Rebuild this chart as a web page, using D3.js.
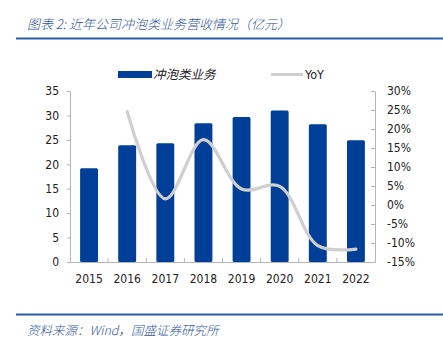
<!DOCTYPE html>
<html><head><meta charset="utf-8">
<script src="https://cdn.jsdelivr.net/npm/d3@7"></script>
<style>
html,body{margin:0;padding:0;background:#fff;}
svg{display:block;}
</style></head>
<body>
<svg id="c" width="443" height="338"></svg>
<script>
const years = ["2015","2016","2017","2018","2019","2020","2021","2022"];
const revenue = [19.2, 23.9, 24.3, 28.4, 29.7, 31.0, 28.2, 24.9];
const yoy = [null, 24.6, 1.6, 17.2, 4.2, 4.9, -10.7, -11.6];
const leftTicks = [0,5,10,15,20,25,30,35];
const rightTicks = [-15,-10,-5,0,5,10,15,20,25,30];
const titleText = "图表 2:  近年公司冲泡类业务营收情况（亿元）";
const sourceText = "资料来源：Wind，国盛证券研究所";
const seriesNames = ["冲泡类业务","YoY"];

const svg = d3.select("#c");
const blue = "#003f97", gray = "#cfcfcf", axisCol = "#b4b4b4", titleBlue = "#2f5597";
const numFont = "'DejaVu Sans Condensed', 'Liberation Sans', Arial, sans-serif";
const cjkFont = "'Noto Sans CJK SC', sans-serif";

// title
svg.append("text").attr("x",27).attr("y",29).attr("fill",titleBlue)
  .attr("font-family",cjkFont).attr("font-size",13).attr("font-style","italic").attr("font-weight",300)
  .text(titleText);
svg.append("line").attr("x1",16).attr("x2",443).attr("y1",38.5).attr("y2",38.5)
  .attr("stroke","#2a5ca8").attr("stroke-width",2);

// footer
svg.append("line").attr("x1",16).attr("x2",443).attr("y1",314.5).attr("y2",314.5)
  .attr("stroke","#2a5ca8").attr("stroke-width",2);
svg.append("text").attr("x",27).attr("y",335).attr("fill",titleBlue)
  .attr("font-family",cjkFont).attr("font-size",12.5).attr("font-style","italic").attr("font-weight",300)
  .text(sourceText);

const x = d3.scaleBand().domain(years).range([70,375]).paddingInner(0.53).paddingOuter(0.265);
const yL = d3.scaleLinear().domain([0,35]).range([262,91]);
const yR = d3.scaleLinear().domain([-15,30]).range([262,91]);

// axes
const gL = svg.append("g").attr("transform","translate(70,0)")
  .call(d3.axisLeft(yL).tickValues(leftTicks).tickSize(3).tickSizeOuter(0).tickPadding(8));
const gR = svg.append("g").attr("transform","translate(375,0)")
  .call(d3.axisRight(yR).tickValues(rightTicks).tickFormat(d=>d+"%").tickSize(0).tickSizeOuter(0).tickPadding(12));
gR.selectAll(".tick").append("line").attr("x1",-4).attr("x2",0).attr("stroke",axisCol);
[gL,gR].forEach(g=>{
  g.select(".domain").attr("stroke",axisCol);
  g.selectAll(".tick line").attr("stroke",axisCol);
  g.selectAll("text").attr("font-family",numFont).attr("font-size",12).attr("fill","#222");
});

// bars
svg.append("g").selectAll("rect").data(revenue).join("rect")
  .attr("x",(d,i)=>x(years[i])).attr("width",x.bandwidth())
  .attr("y",d=>yL(d)).attr("height",d=>yL(0)-yL(d))
  .attr("fill",blue).attr("rx",1.5);

// bottom axis
const gB = svg.append("g").attr("transform","translate(0,262)")
  .call(d3.axisBottom(x).tickSize(0).tickPadding(12));
gB.select(".domain").attr("stroke",axisCol);
gB.selectAll("text").attr("font-family",numFont).attr("font-size",12).attr("fill","#222");
const step = x.step();
gB.selectAll(".sep").data(years.slice(1)).join("line").attr("class","sep")
  .attr("x1",d=>x(d)-x.paddingInner()*step/2).attr("x2",d=>x(d)-x.paddingInner()*step/2)
  .attr("y1",0).attr("y2",-4).attr("stroke",axisCol);

// line
const pts = yoy.map((v,i)=>({v,i})).filter(d=>d.v!==null);
svg.append("path").datum(pts)
  .attr("d",d3.line().x(d=>x(years[d.i])+x.bandwidth()/2).y(d=>yR(d.v)).curve(d3.curveCatmullRom.alpha(0.5)))
  .attr("fill","none").attr("stroke",gray).attr("stroke-width",3.2).attr("stroke-linecap","round");

// legend
const lg = svg.append("g");
lg.append("rect").attr("x",118).attr("y",71).attr("width",34).attr("height",7).attr("fill",blue);
lg.append("text").attr("x",153).attr("y",78.5).attr("font-family",cjkFont).attr("font-size",12.5)
  .attr("font-style","italic").attr("fill","#222").text(seriesNames[0]);
lg.append("line").attr("x1",271).attr("x2",303).attr("y1",74.5).attr("y2",74.5).attr("stroke",gray).attr("stroke-width",3);
lg.append("text").attr("x",305).attr("y",79).attr("font-family",numFont).attr("font-size",12.5)
  .attr("fill","#222").text(seriesNames[1]);
</script>
</body></html>
